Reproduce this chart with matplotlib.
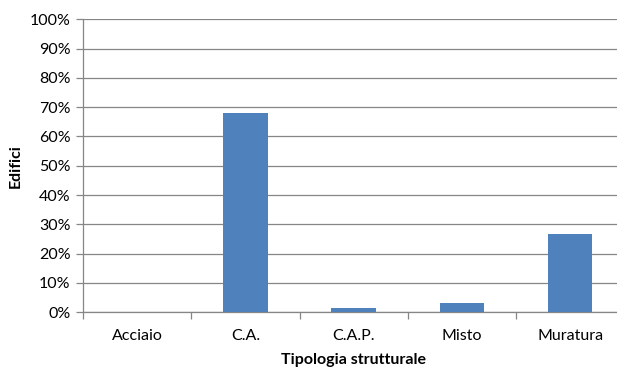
import matplotlib.pyplot as plt
import numpy as np
from matplotlib.ticker import FixedLocator, PercentFormatter

categories = ["Acciaio", "C.A.", "C.A.P.", "Misto", "Muratura"]
values = [0.0, 67.9, 1.5, 3.3, 26.6]

plt.rcParams['font.family'] = ['Lato', 'DejaVu Sans']

fig = plt.figure(figsize=(6.17, 3.69), dpi=100)
ax = fig.add_axes([0.1345, 0.1537, 0.8775, 0.794])

x = np.arange(len(categories))
ax.bar(x, values, width=0.41, color="#4F81BD", zorder=3)

ax.set_xlim(-0.5, len(categories) - 0.5)
ax.set_ylim(0, 100)
ax.set_yticks(np.arange(0, 101, 10))
ax.yaxis.set_major_formatter(PercentFormatter(decimals=0))
ax.yaxis.grid(True, color="#868686", linewidth=0.9, zorder=0)

ax.set_xticks(x)
ax.set_xticklabels(categories)
ax.xaxis.set_minor_locator(FixedLocator(np.arange(-0.5, len(categories), 1.0)))
ax.tick_params(axis="x", which="major", length=0, pad=12, labelsize=11.5, colors="#000000")
ax.tick_params(axis="x", which="minor", length=5, color="#868686", width=0.9)
ax.tick_params(axis="y", length=5, color="#868686", width=0.9, labelsize=11.5, pad=4)

for side in ["top", "right"]:
    ax.spines[side].set_visible(False)
for side in ["left", "bottom"]:
    ax.spines[side].set_color("#868686")
    ax.spines[side].set_linewidth(0.9)

ax.set_xlabel("Tipologia strutturale", fontweight="bold", fontsize=11.5, labelpad=7)
ax.set_ylabel("Edifici", fontweight="bold", fontsize=11.5, labelpad=5)

fig.savefig("out.png", dpi=100)
